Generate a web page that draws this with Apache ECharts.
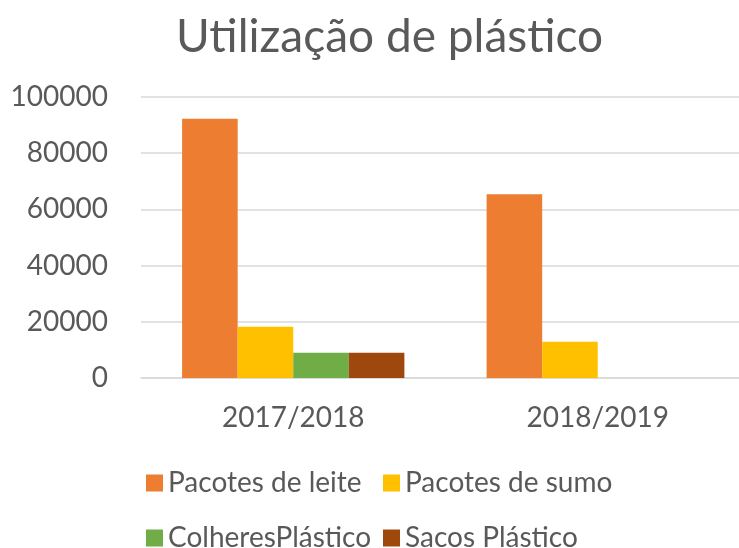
<!DOCTYPE html>
<html>
<head>
<meta charset="utf-8">
<script src="https://cdn.jsdelivr.net/npm/echarts@6/dist/echarts.min.js"></script>
<style>
  html, body { margin: 0; padding: 0; background: #fff; overflow: hidden; }
  /* a área do gráfico passa da margem direita, como no original */
  #chart { width: 750px; height: 548px; }
</style>
</head>
<body>
<div id="chart"></div>
<script>
// valores
const anos = ['2017/2018', '2018/2019'];
const pacotesLeite = [92300, 65400];
const pacotesSumo = [18200, 12900];
const colheresPlastico = [9000, 0];
const sacosPlastico = [9000, 0];
const yTicks = [0, 20000, 40000, 60000, 80000, 100000];

const FONT = 'Lato';
const GREY = '#595959';

const nomes = ['Pacotes de leite', 'Pacotes de sumo', 'ColheresPlástico', 'Sacos Plástico'];
const cores = ['#ED7D31', '#FFC000', '#70AD47', '#9E480E'];
const valores = [pacotesLeite, pacotesSumo, colheresPlastico, sacosPlastico];

// uma legenda por item para alinhar em colunas como no Excel
const legendPos = [
    { left: 141, top: 464 },
    { left: 378, top: 464 },
    { left: 141, top: 519 },
    { left: 378, top: 519 }
];

const chart = echarts.init(document.getElementById('chart'));

const option = {
    animation: false,
    textStyle: { fontFamily: FONT },
    title: {
        text: 'Utilização de plástico',
        left: 171,
        top: 9,
        textStyle: { fontFamily: FONT, fontSize: 46, fontWeight: 'normal', color: GREY }
    },
    legend: nomes.map((n, i) => ({
        data: [n],
        left: legendPos[i].left,
        top: legendPos[i].top,
        icon: 'rect',
        itemWidth: 17,
        itemHeight: 17,
        itemGap: 8,
        selectedMode: false,
        textStyle: { fontFamily: FONT, fontSize: 28, color: GREY }
    })),
    grid: {
        left: 141,
        top: 97,
        width: 609,
        height: 281
    },
    xAxis: {
        type: 'category',
        data: anos,
        axisLine: { lineStyle: { color: '#d9d9d9', width: 1.5 } },
        axisTick: { show: false },
        axisLabel: { fontFamily: FONT, fontSize: 28, color: GREY, margin: 26 }
    },
    yAxis: {
        type: 'value',
        min: yTicks[0],
        max: yTicks[yTicks.length - 1],
        interval: 20000,
        axisLine: { show: false },
        axisTick: { show: false },
        splitLine: { lineStyle: { color: '#d9d9d9', width: 1.5 } },
        axisLabel: {
            fontFamily: FONT, fontSize: 28, color: GREY, margin: 33,
            formatter: v => String(v)
        }
    },
    series: nomes.map((n, i) => ({
        name: n,
        type: 'bar',
        data: valores[i],
        barGap: '0%',
        barCategoryGap: '27%',
        itemStyle: { color: cores[i] }
    }))
};

chart.setOption(option);
</script>
</body>
</html>
